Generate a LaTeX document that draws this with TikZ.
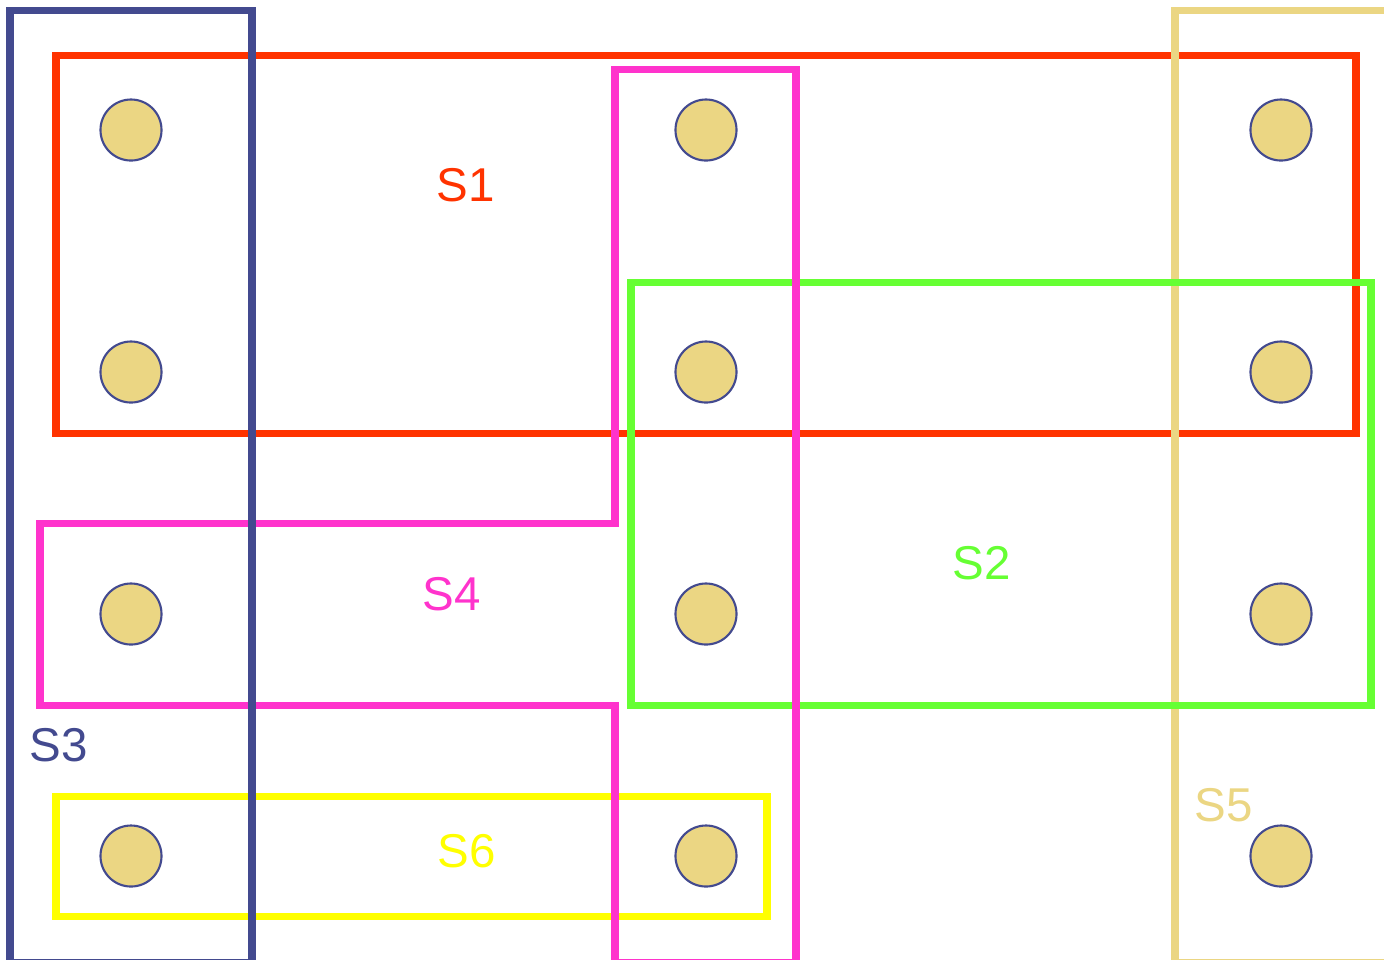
\documentclass[tikz,border=0pt]{standalone}
\usepackage{fontspec}
\setmainfont{Liberation Sans}
\definecolor{sred}{HTML}{FF3300}
\definecolor{sgreen}{HTML}{66FF33}
\definecolor{spink}{HTML}{FF33CC}
\definecolor{snavy}{HTML}{434A8F}
\definecolor{swheat}{HTML}{EBD683}
\definecolor{syellow}{HTML}{FFFF00}
\begin{document}
\begin{tikzpicture}[x=0.01cm,y=-0.01cm,
  setline/.style={line width=2pt, line join=miter},
  elem/.style={circle, fill=swheat, draw=snavy, line width=0.6pt, minimum size=0.61cm, inner sep=0pt},
  lab/.style={font=\fontsize{13.5pt}{16pt}\selectfont, inner sep=0pt}]
\useasboundingbox (0,0) rectangle (1384,959);
\clip (0,0) rectangle (1384,959);
% sets
\draw[setline, sred] (56,55) rectangle (1356,433);
\draw[setline, swheat] (1175,10) rectangle (1400,962);
\draw[setline, sgreen] (631,282) rectangle (1371,705);
\draw[setline, syellow] (56,796) rectangle (767,916);
\draw[setline, spink] (615,962) -- (615,705) -- (40,705) -- (40,523) -- (615,523) -- (615,69) -- (796,69) -- (796,962) -- cycle;
\draw[setline, snavy] (10,10) rectangle (252,962);
% elements
\foreach \c/\x in {a/131,b/706,c/1281}{
  \foreach \r/\y in {1/130,2/372,3/614,4/856}{
    \node[elem] (e\c\r) at (\x,\y) {};
  }
}
% labels
\node[lab, text=sred] (l1) at (466,185) {S1};
\node[lab, text=sgreen] (l2) at (982,563) {S2};
\node[lab, text=snavy] (l3) at (59,745) {S3};
\node[lab, text=spink] (l4) at (452,594) {S4};
\node[lab, text=swheat] (l5) at (1224,805) {S5};
\node[lab, text=syellow] (l6) at (467,851) {S6};
\end{tikzpicture}
\end{document}
